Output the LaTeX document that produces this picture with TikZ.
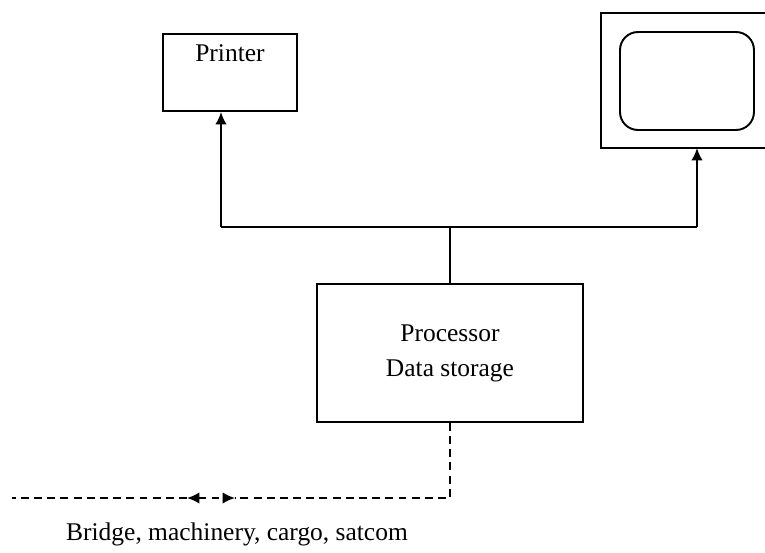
\documentclass[tikz,border=0pt]{standalone}
\usepackage{fontspec}
\setmainfont{Liberation Serif}
\usetikzlibrary{arrows.meta}

\begin{document}
\begin{tikzpicture}[x=0.02cm, y=-0.02cm,
  every node/.style={font=\fontsize{14.5}{20}\selectfont},
  box/.style={draw, line width=1.1pt, inner sep=0pt},
  wire/.style={line width=1.1pt},
  dashline/.style={line width=1.1pt, dash pattern=on 4.5pt off 3pt},
  tip/.style={-{Latex[length=7pt,width=6.5pt]}}]

\useasboundingbox (0,0) rectangle (765,552) ;

% printer and monitor
\node [box, minimum width=2.68cm, minimum height=1.54cm,
  label={[anchor=north, yshift=-3pt]north:Printer}] (printer) at (230,72.5) {} ;
\draw [wire] (766,13) -- (601,13) -- (601,148) -- (766,148) ;
\node [box, rounded corners=0.36cm, minimum width=2.68cm, minimum height=1.96cm] (screen) at (687,81) {} ;
\coordinate (monbase) at (697,148) ;

% processor
\node [box, minimum width=5.32cm, minimum height=2.76cm, align=center] (processor) at (450,353) {Processor\\Data storage} ;

% bus
\coordinate (busL) at (221,227) ;
\coordinate (busR) at (697,227) ;
\draw [wire] (busL) -- (busR) ;
\draw [wire] (processor.north) -- (processor.north |- busL) ;
\draw [wire,tip] (busL) -- (busL |- printer.south) ;
\draw [wire,tip] (busR) -- (monbase) ;

% external links
\coordinate (tipL) at (187,498) ;
\coordinate (tipR) at (235,498) ;
\coordinate (farend) at (12,498) ;
\draw [dashline] (processor.south) |- (tipR) ;
\draw [dashline,{Latex[length=7pt,width=6.5pt]}-{Latex[length=7pt,width=6.5pt]}] (tipL) -- (tipR) ;
\draw [dashline] (tipL) -- (farend) ;
\node (links) at (237,534) {Bridge, machinery, cargo, satcom} ;

\end{tikzpicture}
\end{document}
